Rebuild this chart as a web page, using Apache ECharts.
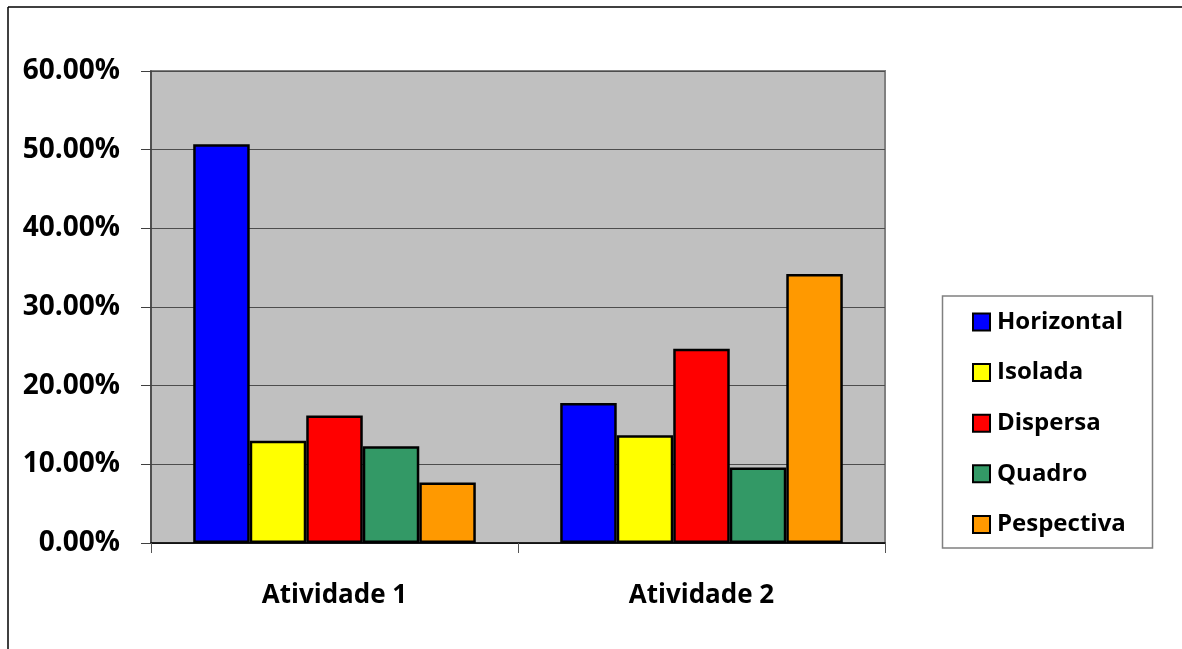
<!DOCTYPE html>
<html>
<head>
<meta charset="utf-8">
<script src="https://cdn.jsdelivr.net/npm/echarts@6/dist/echarts.min.js"></script>
<style>
  html, body { margin: 0; padding: 0; background: #fff; }
  #chart { width: 1182px; height: 649px; }
</style>
</head>
<body>
<div id="chart"></div>
<script>
// Categories on the x axis
const categories = ['Atividade 1', 'Atividade 2'];

// Share of each arrangement type per activity (percent)
const horizontal = [50.7, 17.8];
const isolada    = [13.0, 13.7];
const dispersa   = [16.2, 24.7];
const quadro     = [12.3, 9.6];
const pespectiva = [7.7, 34.2];

const seriesNames  = ['Horizontal', 'Isolada', 'Dispersa', 'Quadro', 'Pespectiva'];
const seriesValues = [horizontal, isolada, dispersa, quadro, pespectiva];
const seriesColors = ['#0000ff', '#ffff00', '#ff0000', '#339966', '#ff9900'];

const FONT = '"Open Sans", "DejaVu Sans", sans-serif';

const chart = echarts.init(document.getElementById('chart'));

chart.setOption({
  animation: false,
  backgroundColor: '#ffffff',
  grid: {
    left: 151, top: 71, right: 297, bottom: 106,
    show: true,
    backgroundColor: '#c0c0c0',
    borderColor: '#808080',
    borderWidth: 2
  },
  legend: {
    orient: 'vertical',
    left: 972,
    top: 310,
    itemWidth: 17,
    itemHeight: 17,
    itemGap: 26.6,
    icon: 'rect',
    padding: 0,
    textStyle: {
      fontFamily: FONT, fontWeight: 'bold', fontSize: 24, color: '#000',
      padding: [0, 0, 0, 2]
    },
    data: seriesNames
  },
  xAxis: {
    type: 'category',
    data: categories,
    axisLine: { lineStyle: { color: '#000', width: 1.5 } },
    axisTick: { show: true, alignWithLabel: false, length: 10, lineStyle: { color: '#555' } },
    axisLabel: { margin: 40, fontFamily: FONT, fontWeight: 'bold', fontSize: 26, color: '#000' },
    splitLine: { show: false }
  },
  yAxis: {
    type: 'value',
    min: 0, max: 60, interval: 10,
    axisLine: { show: true, lineStyle: { color: '#404040', width: 1.5 } },
    axisTick: { show: true, length: 10, lineStyle: { color: '#404040' } },
    axisLabel: {
      margin: 31, fontFamily: FONT, fontWeight: 'bold', fontSize: 28, color: '#000',
      formatter: v => v.toFixed(2) + '%'
    },
    splitLine: { show: true, lineStyle: { color: '#4d4d4d', width: 1 } }
  },
  series: seriesNames.map((name, i) => ({
    name: name,
    type: 'bar',
    data: seriesValues[i],
    barGap: '0%',
    barCategoryGap: '23%',
    itemStyle: { color: seriesColors[i], borderColor: '#000', borderWidth: 2.5 }
  })),
  graphic: [
    // outer chart frame
    { type: 'line', shape: { x1: 8, y1: 7, x2: 1182, y2: 7 }, style: { stroke: '#000', lineWidth: 1.5 }, silent: true },
    { type: 'line', shape: { x1: 8, y1: 7, x2: 8, y2: 649 }, style: { stroke: '#000', lineWidth: 1.5 }, silent: true },
    // legend frame
    { type: 'rect', shape: { x: 942.5, y: 296, width: 210, height: 252 }, style: { fill: 'none', stroke: '#808080', lineWidth: 1.5 }, silent: true, z: -1 }
  ]
});
</script>
</body>
</html>
